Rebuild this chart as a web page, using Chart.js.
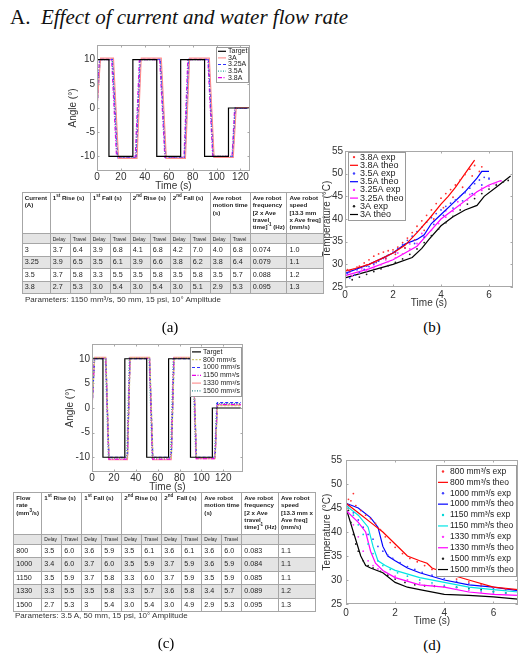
<!DOCTYPE html>
<html><head><meta charset="utf-8">
<script src="https://cdn.jsdelivr.net/npm/chart.js@4/dist/chart.umd.min.js"></script>
<style>
body{margin:0;width:529px;height:660px;position:relative;background:#fff;overflow:hidden;font-family:'Liberation Sans',Arial,sans-serif;}
canvas{position:absolute;}
.txt{position:absolute;white-space:nowrap;}
table{position:absolute;border-collapse:collapse;table-layout:fixed;font-family:'Liberation Sans',Arial,sans-serif;color:#222;}
td{border:1px solid #a6a6a6;padding:0 0 0 2px;font-size:7.2px;line-height:8px;vertical-align:middle;white-space:nowrap;overflow:hidden;}
td.dt{font-size:5px;}
th{border:1px solid #a6a6a6;font-size:6.2px;line-height:7.3px;font-weight:bold;text-align:left;vertical-align:top;padding:1px 2px;white-space:nowrap;overflow:hidden;}
sup{font-size:4.5px;line-height:0;}
tr.g td{background:#e4e4e4;}
</style></head>
<body>
<div class="txt" style="left:10px;top:5px;font:italic 21px 'Liberation Serif',serif;color:#111;"><span style="font-style:normal">A.</span>&nbsp;&nbsp;Effect of current and water flow rate</div>

<canvas id="cA" width="205" height="160" style="left:55px;top:35px"></canvas>
<canvas id="cB" width="209" height="175" style="left:320px;top:140px"></canvas>
<canvas id="cC" width="205" height="160" style="left:50px;top:335px"></canvas>
<canvas id="cD" width="209" height="185" style="left:320px;top:450px"></canvas>

<div id="tblA"></div>
<div id="tblC"></div>

<div class="txt" style="left:25px;top:295px;font-size:8px;color:#333;">Parameters: 1150 mm³/s, 50 mm, 15 psi, 10° Amplitude</div>
<div class="txt" style="left:15px;top:611px;font-size:8px;color:#333;">Parameters: 3.5 A, 50 mm, 15 psi, 10° Amplitude</div>

<div class="txt" style="left:170px;top:327px;transform:translate(-50%,-50%);font:15px 'Liberation Serif',serif;">(a)</div>
<div class="txt" style="left:432px;top:327px;transform:translate(-50%,-50%);font:15px 'Liberation Serif',serif;">(b)</div>
<div class="txt" style="left:166px;top:643px;transform:translate(-50%,-50%);font:15px 'Liberation Serif',serif;">(c)</div>
<div class="txt" style="left:432px;top:645px;transform:translate(-50%,-50%);font:15px 'Liberation Serif',serif;">(d)</div>

<script>
// ---------- tick labels ----------
const angleTicks = [-10, -5, 0, 5, 10];
const timeTicksLong = [0, 20, 40, 60, 80, 100, 120];
const tempTicks = [25, 30, 35, 40, 45, 50, 55];
const timeTicksShort = [0, 2, 4, 6];

// ---------- (a) angle vs time, by current ----------
const targetA = [[0,10],[10,10],[10,-10],[30,-10],[30,10],[50,10],[50,-10],[70,-10],[70,10],[90,10],[90,-10],[110,-10],[110,0],[128,0]];
const cur3A   = [[0,0],[3,10.3],[13.8,10.3],[18,-10.4],[33.5,-10.4],[37,10.3],[53.8,10.3],[58,-10.4],[74,-10.4],[77.5,10.3],[94,10.3],[98,-10.2],[114,-10.2],[116.5,0.1],[128,0.1]];
const cur325A = [[0,0],[2.6,10.1],[13.2,10.1],[17.5,-10.3],[33,-10.3],[36.5,10.1],[53.3,10.1],[57.6,-10.3],[73.5,-10.3],[77,10.1],[93.5,10.1],[97.6,-10.1],[113.6,-10.1],[116,0],[128,0]];
const cur35A  = [[0,0],[2.3,10],[12.8,10],[17,-10.2],[32.6,-10.2],[36,10],[53,10],[57.2,-10.2],[73.2,-10.2],[76.6,10],[93.2,10],[97.2,-10],[113.3,-10],[115.6,0],[128,0]];
const cur38A  = [[0,0],[2,10],[12.3,10],[16.4,-10.2],[32,-10.2],[35.5,10],[52.5,10],[56.8,-10.2],[72.8,-10.2],[76,10],[92.8,10],[96.8,-10],[113,-10],[115.2,0],[128,0]];

// ---------- (b) temperature vs time, by current ----------
const exp38A = [[0,28.2],[0.2,28.6],[0.4,29],[0.6,29.6],[0.8,30.3],[1.0,31],[1.2,31.8],[1.4,32.3],[1.6,32.7],[1.8,33],[2.0,33.2],[2.2,33.8],[2.4,34.8],[2.6,35.8],[2.8,37],[3.0,38.4],[3.2,39.6],[3.4,40.8],[3.6,42],[3.8,43.4],[4.0,44.6],[4.2,45.6],[4.4,46.5],[4.6,47.5],[4.8,48.6],[5.0,49.8],[5.2,51],[5.4,51.8],[5.6,50.5],
  [0.1,28.8],[0.5,29.4],[0.9,29.9],[1.3,30.6],[1.7,31.3],[2.1,32.2],[2.5,33.6],[2.9,35.4],[3.3,37.5],[3.7,40],[4.1,42.5],[4.5,44.8],[4.9,47],[5.3,49.5],[5.7,51.5]];
const theo38A = [[0,28.5],[0.5,29.2],[1,30],[1.5,31.2],[2,32.5],[2.5,34.2],[3,37],[3.5,40],[4,43.3],[4.3,45],[4.6,47],[5,50],[5.4,53]];
const exp35A = [[0,26.5],[0.2,27],[0.4,27.6],[0.6,28.2],[0.8,28.9],[1.0,29.5],[1.2,30.1],[1.4,30.7],[1.6,31.3],[1.8,32],[2.0,32.7],[2.2,33.5],[2.4,34.4],[2.6,35.3],[2.8,36.2],[3.0,37.2],[3.2,38.2],[3.4,39.3],[3.6,40.3],[3.8,41.2],[4.0,42],[4.2,42.8],[4.4,43.5],[4.6,44.2],[4.8,45],[5.0,45.8],[5.2,46.8],[5.4,47.8],[5.6,48.6],[5.8,49.2],[6.0,49],
  [0.1,28],[0.5,28.8],[0.9,29.6],[1.3,30.4],[1.7,31.4],[2.1,32.6],[2.5,33.6],[2.9,34.6],[3.3,36],[3.7,38.8],[4.1,40.8],[4.5,42.4],[4.9,44],[5.3,45.6],[5.7,47.5],[6.0,48.8]];
const theo35A = [[0,28],[0.5,29],[1,30],[1.5,31.2],[2,32.5],[2.5,34.5],[3,35.5],[3.3,36.5],[3.6,39],[4,41],[4.5,43.5],[5,46],[5.5,49],[5.7,50.5],[6,50.5]];
const exp325A = [[0,27],[0.3,27.5],[0.6,28],[0.9,28.6],[1.2,29.2],[1.5,29.9],[1.8,30.6],[2.1,31.4],[2.4,32.3],[2.7,33.4],[3.0,34.6],[3.3,36],[3.6,37.5],[3.9,39],[4.2,40.4],[4.5,41.7],[4.8,43],[5.1,44.2],[5.4,45.3],[5.7,46.3],[6.0,47.2],[6.3,48],[6.5,48.4],
  [0.2,28.3],[0.7,29],[1.2,29.9],[1.7,31],[2.2,32.5],[2.7,34.5],[3.2,36.8],[3.7,39.5],[4.2,41.8],[4.7,43.8],[5.2,45.4],[5.7,46.8],[6.2,47.8]];
const theo325A = [[0,27.5],[1,29],[2,31],[3,34],[3.5,37],[4,40],[4.5,42],[5,44],[5.5,46],[6,47.5],[6.5,48.5]];
const exp3A = [[0,26],[0.3,26.6],[0.6,27.2],[0.9,27.8],[1.2,28.4],[1.5,29],[1.8,29.7],[2.1,30.4],[2.4,31.2],[2.7,32.2],[3.0,33.4],[3.3,34.8],[3.6,36.3],[3.9,37.8],[4.2,39.2],[4.5,40.6],[4.8,42],[5.1,43.3],[5.4,44.5],[5.7,45.6],[6.0,46.6],[6.3,47.5],[6.6,48.2],[6.8,48.5]];
const theo3A = [[0,27],[1,28.5],[2,30],[2.8,31.5],[3.2,33.5],[3.5,35.5],[4,38.5],[4.5,40.5],[5,42],[5.5,43],[5.8,45],[6.3,47],[6.9,49.5]];

// ---------- (c) angle vs time, by flow rate ----------
const targetC = [[0,10],[10,10],[10,-10],[30,-10],[30,10],[50,10],[50,-10],[70,-10],[70,10],[90,10],[90,-10],[110,-10],[110,0],[136,0]];
const flow800  = [[0,0],[2.5,10.2],[12.8,10.2],[15.6,-10.1],[32.5,-10.1],[35,10.2],[52.8,10.2],[55.8,-10.1],[72.6,-10.1],[75.2,10.2],[92.6,10.2],[95.6,-10.1],[112.6,-10.1],[114.8,0.5],[136,0.5]];
const flow1000 = [[0,0],[2.4,10],[12.7,10],[15.5,-10],[32.4,-10],[34.8,10],[52.7,10],[55.6,-10],[72.5,-10],[75,10],[92.6,10],[95.5,-10],[112.5,-10],[114.6,1.1],[136,1.1]];
const flow1150 = [[0,0],[2.3,10.1],[12.6,10.1],[15.4,-10.4],[32.3,-10.4],[34.7,10.1],[52.6,10.1],[55.4,-10.4],[72.4,-10.4],[74.8,10.1],[92.5,10.1],[95.3,-10.3],[112.4,-10.3],[114.5,0.7],[136,0.7]];
const flow1330 = [[0,0],[2.4,10.3],[12.6,10.3],[15.5,-10.5],[32.4,-10.5],[34.8,10.3],[52.6,10.3],[55.5,-10.5],[72.4,-10.5],[74.9,10.3],[92.5,10.3],[95.4,-10.3],[112.4,-10.3],[114.6,0.6],[136,0.6]];
const flow1500 = [[0,0],[2,10.2],[12.2,10.2],[15,-10.2],[31.8,-10.2],[34.2,10.2],[52.2,10.2],[55,-10.2],[71.8,-10.2],[74.3,10.2],[92,10.2],[94.9,-10.2],[111.9,-10.2],[114,0.9],[136,0.9]];

// ---------- (d) temperature vs time, by flow rate ----------
const exp800 = [[0.1,46.8],[0.2,46.5],[0.3,48],[0.4,45.5],[0.6,44.5],[0.8,43.5],[1.0,42.8],[1.2,41.8],[1.4,40.5],[1.6,39],[1.8,37.8],[2.0,36.8],[2.3,35.5],[2.6,34.5],[2.9,33.8],[3.2,33],[3.5,32.2],[3.8,31.4],[4.1,30.8],[4.5,30.2],[5.0,29.6],[5.5,29],[6.0,28.5],[6.5,28.1],[7.0,27.8]];
const theo800 = [[0,46],[0.5,44],[1,42],[1.5,40],[2,37.5],[2.5,35],[3,34],[3.3,33.5],[3.5,32.5],[4,31.5],[5,30],[6,28.5],[7,28]];
const exp1000 = [[0.1,45.5],[0.3,44],[0.5,42.5],[0.7,41],[0.9,39.5],[1.1,38.5],[1.3,37],[1.5,36],[1.7,35.2],[1.9,34.5],[2.2,33.6],[2.5,32.8],[2.8,32.2],[3.1,31.6],[3.5,31],[4.0,30.3],[4.5,29.7],[5.0,29.2],[5.5,28.7],[6.0,28.3],[6.5,28],[7.0,27.6]];
const theo1000 = [[0,46],[0.5,45],[1,43],[1.3,41],[1.5,37],[1.7,35],[2,34],[2.5,32.5],[3,31.5],[4,30],[5,29],[6,28.5],[7,27.8]];
const exp1150 = [[0.1,45],[0.3,43.5],[0.5,41.5],[0.7,39.5],[0.9,37.5],[1.1,35.5],[1.3,34],[1.5,33],[1.8,32.2],[2.1,31.5],[2.5,30.8],[3.0,30],[3.5,29.4],[4.0,28.9],[4.5,28.5],[5.0,28.1],[5.5,27.8],[6.0,27.5],[6.5,27.3],[7.0,27.1]];
const theo1150 = [[0,45.5],[0.5,43.5],[0.9,41],[1.1,37],[1.3,34],[1.6,33],[2,32],[3,30.5],[4,29.5],[5,28.5],[6,28],[7,27.5]];
const exp1330 = [[0.1,44],[0.3,41.5],[0.5,39],[0.7,36],[0.9,34],[1.1,33],[1.3,32.3],[1.6,31.6],[2.0,30.8],[2.5,30],[3.0,29.4],[3.5,28.9],[4.0,28.5],[4.5,28.1],[5.0,27.8],[5.5,27.5],[6.0,27.2],[6.5,27],[7.0,26.8]];
const theo1330 = [[0,44.5],[0.5,42],[0.8,40],[1,36],[1.2,33.5],[1.5,32],[2,30.5],[3,29],[4,28.5],[5,27.5],[6,27],[7,26.8]];
const exp1500 = [[0.1,44.5],[0.2,42],[0.3,39.5],[0.4,37.5],[0.5,36],[0.7,34],[0.9,33],[1.1,32.5],[1.4,31.8],[1.7,31],[2.0,30.2],[2.4,29.5],[2.8,29],[3.2,28.8],[3.6,28.7],[4.0,28.6],[4.5,28.5],[5.0,28.3],[5.5,28],[6.0,27.6],[6.5,27.3],[7.0,27]];
const theo1500 = [[0,45],[0.3,40],[0.6,35],[0.8,33],[1,32.5],[1.5,31.5],[2,29.5],[2.5,28.5],[3,28],[4,27],[5,26.8],[6,26.5],[7,26]];

// ---------- tables ----------
const subHead = ['Delay','Travel'];
const tableAHeader = ['Current<br>(A)','1<sup>st</sup> Rise (s)','1<sup>st</sup> Fall (s)','2<sup>nd</sup> Rise (s)','2<sup>nd</sup> Fall (s)','Ave robot<br>motion time<br>(s)','Ave robot<br>frequency<br>[2 x Ave<br>travel<br>time]<sup>-1</sup> (Hz)','Ave robot<br>speed<br>[13.3 mm<br>x Ave freq]<br>(mm/s)'];
const tableARows = [
  ['3','3.7','6.4','3.9','6.8','4.1','6.8','4.2','7.0','4.0','6.8','0.074','1.0'],
  ['3.25','3.9','6.5','3.5','6.1','3.9','6.6','3.8','6.2','3.8','6.4','0.079','1.1'],
  ['3.5','3.7','5.8','3.3','5.5','3.5','5.8','3.5','5.8','3.5','5.7','0.088','1.2'],
  ['3.8','2.7','5.3','3.0','5.4','3.0','5.4','3.0','5.1','2.9','5.3','0.095','1.3']];
const tableCHeader = ['Flow<br>rate<br>(mm<sup>3</sup>/s)','1<sup>st</sup> Rise (s)','1<sup>st</sup> Fall (s)','2<sup>nd</sup> Rise (s)','2<sup>nd</sup>&nbsp; Fall (s)','Ave robot<br>motion time<br>(s)','Ave robot<br>frequency<br>[2 x Ave<br>travel<br>time]<sup>-1</sup> (Hz)','Ave robot<br>speed<br>[13.3 mm x<br>Ave freq]<br>(mm/s)'];
const tableCRows = [
  ['800','3.5','6.0','3.6','5.9','3.5','6.1','3.6','6.1','3.6','6.0','0.083','1.1'],
  ['1000','3.4','6.0','3.7','6.0','3.5','5.9','3.7','5.9','3.6','5.9','0.084','1.1'],
  ['1150','3.5','5.9','3.7','5.8','3.3','6.0','3.7','5.9','3.5','5.9','0.085','1.1'],
  ['1330','3.3','5.5','3.5','5.8','3.3','5.7','3.6','5.8','3.4','5.7','0.089','1.2'],
  ['1500','2.7','5.3','3','5.4','3.0','5.4','3.0','4.9','2.9','5.3','0.095','1.3']];

function buildTable(el, left, top, head, rows, headH, subH, rowH, grayOdd) {
  const widths = [28,20,20,20,20,20,20,20,20,20,20,36.7,36.7];
  let h = '<table style="left:'+left+'px;top:'+top+'px;width:'+widths.reduce((a,b)=>a+b,0)+'px"><colgroup>';
  widths.forEach(w => h += '<col style="width:'+w+'px">');
  h += '</colgroup><tr style="height:'+headH+'px"><th>'+head[0]+'</th>';
  for (let i = 1; i <= 5; i++) h += '<th colspan="2">'+head[i]+'</th>';
  h += '<th>'+head[6]+'</th><th>'+head[7]+'</th></tr>';
  h += '<tr class="g" style="height:'+subH+'px"><td></td>';
  for (let i = 0; i < 5; i++) h += '<td class="dt">'+subHead[0]+'</td><td class="dt">'+subHead[1]+'</td>';
  h += '<td></td><td></td></tr>';
  rows.forEach((r, i) => {
    const g = (i % 2 === 1) === grayOdd;
    h += '<tr'+(g ? ' class="g"' : '')+' style="height:'+rowH+'px">';
    r.forEach(c => h += '<td>'+c+'</td>');
    h += '</tr>';
  });
  h += '</table>';
  document.getElementById(el).innerHTML = h;
}
buildTable('tblA', 21.7, 192, tableAHeader, tableARows, 41, 10, 12.5, true);
buildTable('tblC', 13.3, 492, tableCHeader, tableCRows, 42, 9.5, 13.5, true);

// ---------- chart helpers ----------
const FONT = "'Liberation Sans', Arial, sans-serif";
const xy = a => a.map(p => ({x: p[0], y: p[1]}));

const frame = {
  id: 'frame',
  afterDatasetsDraw(chart) {
    const ctx = chart.ctx, ca = chart.chartArea, sx = chart.scales.x, sy = chart.scales.y;
    ctx.save();
    ctx.strokeStyle = '#a8a8a8'; ctx.lineWidth = 1; ctx.setLineDash([]);
    const L = 2.5;
    ctx.beginPath();
    sx.ticks.forEach(t => { const p = Math.round(sx.getPixelForValue(t.value)) + 0.5;
      ctx.moveTo(p, ca.bottom); ctx.lineTo(p, ca.bottom - L); ctx.moveTo(p, ca.top); ctx.lineTo(p, ca.top + L); });
    sy.ticks.forEach(t => { const p = Math.round(sy.getPixelForValue(t.value)) + 0.5;
      ctx.moveTo(ca.left, p); ctx.lineTo(ca.left + L, p); ctx.moveTo(ca.right, p); ctx.lineTo(ca.right - L, p); });
    ctx.stroke();
    ctx.strokeRect(Math.round(ca.left) + 0.5, Math.round(ca.top) + 0.5, Math.round(ca.width) - 1, Math.round(ca.height) - 1);
    ctx.restore();
  }
};

const boxLegend = {
  id: 'boxLegend',
  afterDraw(chart, args, o) {
    const ctx = chart.ctx, ca = chart.chartArea, ds = chart.data.datasets;
    ctx.save();
    ctx.font = o.size + 'px ' + FONT;
    let tw = 0; ds.forEach(d => { tw = Math.max(tw, ctx.measureText(d.label).width); });
    const w = Math.round(o.padL + o.sample + o.gap + tw + o.padR), h = Math.round(ds.length * o.row + 2 * o.padT);
    const x0 = Math.round(o.align === 'right' ? ca.right - o.dx - w : ca.left + o.dx);
    const y0 = Math.round(ca.top + o.dy);
    ctx.fillStyle = '#fff'; ctx.fillRect(x0, y0, w, h);
    ctx.strokeStyle = '#9a9a9a'; ctx.lineWidth = 1; ctx.strokeRect(x0 + 0.5, y0 + 0.5, w, h);
    ds.forEach((d, i) => {
      const cy = y0 + o.padT + (i + 0.5) * o.row, sx = x0 + o.padL;
      if (d.showLine) {
        ctx.strokeStyle = d.borderColor; ctx.lineWidth = d.borderWidth || 1; ctx.setLineDash(d.borderDash || []);
        ctx.beginPath(); ctx.moveTo(sx, cy); ctx.lineTo(sx + o.sample, cy); ctx.stroke(); ctx.setLineDash([]);
      } else {
        ctx.fillStyle = d.backgroundColor;
        ctx.beginPath(); ctx.arc(sx + o.sample / 2, cy, 1.2, 0, Math.PI * 2); ctx.fill();
      }
      ctx.fillStyle = '#222'; ctx.textBaseline = 'middle'; ctx.textAlign = 'left';
      ctx.fillText(d.label, sx + o.sample + o.gap, cy);
    });
    ctx.restore();
  }
};

function scales(o) {
  const tickFont = {family: FONT, size: o.fs};
  return {
    x: {type: 'linear', min: o.xmin, max: o.xmax,
      afterBuildTicks: s => { s.ticks = o.xt.map(v => ({value: v})); },
      afterFit: s => { s.height = o.xh; },
      grid: {display: false, drawTicks: false}, border: {display: false},
      ticks: {padding: o.xtp, color: '#333', font: tickFont, maxRotation: 0, autoSkip: false},
      title: {display: true, text: o.xtitle, color: '#333', font: tickFont, padding: {top: 0, bottom: o.xtb}}},
    y: {type: 'linear', min: o.ymin, max: o.ymax,
      afterBuildTicks: s => { s.ticks = o.yt.map(v => ({value: v})); },
      afterFit: s => { s.width = o.yw; },
      grid: {display: false, drawTicks: false}, border: {display: false},
      ticks: {padding: o.ytp, color: '#333', font: tickFont, autoSkip: false},
      title: {display: true, text: o.ytitle, color: '#333', font: tickFont, padding: {top: o.ytt, bottom: 0}}}
  };
}

function line(label, data, color, dash, width) {
  return {label, data: xy(data), showLine: true, borderColor: color, backgroundColor: color,
    borderWidth: width || 1.2, borderDash: dash || [], pointRadius: 0, tension: 0};
}
function dots(label, data, color) {
  return {label, data: xy(data), showLine: false, borderColor: color, backgroundColor: color,
    pointRadius: 0.9, pointBorderWidth: 0, pointStyle: 'circle'};
}

function make(id, datasets, sc, pad, legend) {
  new Chart(document.getElementById(id), {
    type: 'scatter',
    data: {datasets},
    options: {
      responsive: false, animation: false, devicePixelRatio: 1,
      layout: {padding: pad},
      scales: sc,
      plugins: {legend: {display: false}, tooltip: {enabled: false}, boxLegend: legend}
    },
    plugins: [frame, boxLegend]
  });
}

// (a)
make('cA', [
  line('Target', targetA, '#000000', [], 1.2),
  line('3A', cur3A, '#ff8c8c', [], 1.1),
  line('3.25A', cur325A, '#3030ff', [3, 2], 1.2),
  line('3.5A', cur35A, '#2aa89a', [1, 1.5], 1.3),
  line('3.8A', cur38A, '#e600e6', [4, 1.5, 1, 1.5], 1.3)
], scales({xmin: 0, xmax: 128, xt: timeTicksLong, xh: 24, xtp: 0, xtitle: 'Time (s)', xtb: 3,
  ymin: -13, ymax: 13, yt: angleTicks, yw: 42, ytp: 2, ytitle: 'Angle (°)', ytt: 12, fs: 10}),
  {top: 10, right: 10, left: 0, bottom: 0},
  {align: 'right', dx: 2, dy: 2, size: 7, row: 6.6, sample: 8, gap: 2, padL: 2, padR: 1, padT: 1});

// (b)
make('cB', [
  dots('3.8A exp', exp38A, '#ff3030'),
  line('3.8A theo', theo38A, '#ff0000', [], 1.2),
  dots('3.5A exp', exp35A, '#4040ff'),
  line('3.5A theo', theo35A, '#0000ff', [], 1.2),
  dots('3.25A exp', exp325A, '#ff30ff'),
  line('3.25A theo', theo325A, '#ff00ff', [], 1.2),
  dots('3A exp', exp3A, '#202020'),
  line('3A theo', theo3A, '#000000', [], 1.2)
], scales({xmin: 0, xmax: 7, xt: timeTicksShort, xh: 28, xtp: 2, xtitle: 'Time (s)', xtb: 5.7,
  ymin: 25, ymax: 55, yt: tempTicks, yw: 25, ytp: 2, ytitle: 'Temperature (°C)', ytt: 1, fs: 10}),
  {top: 11, right: 16, left: 0, bottom: 0},
  {align: 'left', dx: 3, dy: 1, size: 9, row: 8.2, sample: 8, gap: 2, padL: 2, padR: 1, padT: 1});

// (c)
make('cC', [
  line('Target', targetC, '#000000', [], 1.2),
  line('800 mm³/s', flow800, '#cfc870', [2, 1.5], 1.2),
  line('1000 mm³/s', flow1000, '#3030ff', [3, 2], 1.2),
  line('1150 mm³/s', flow1150, '#e600e6', [4, 1.5, 1, 1.5], 1.3),
  line('1330 mm³/s', flow1330, '#ff8c8c', [], 1.1),
  line('1500 mm³/s', flow1500, '#2a8a8a', [1, 1.5], 1.3)
], scales({xmin: 0, xmax: 138, xt: timeTicksLong, xh: 23, xtp: 0, xtitle: 'Time (s)', xtb: 2,
  ymin: -13, ymax: 13, yt: angleTicks, yw: 42, ytp: 2, ytitle: 'Angle (°)', ytt: 14, fs: 10}),
  {top: 9, right: 12, left: 0, bottom: 0},
  {align: 'right', dx: 2, dy: 3, size: 7, row: 7.8, sample: 9, gap: 2, padL: 2, padR: 1, padT: 1});

// (d)
make('cD', [
  dots('800 mm³/s exp', exp800, '#ff3030'),
  line('800 mm³/s theo', theo800, '#ff0000', [], 1.2),
  dots('1000 mm³/s exp', exp1000, '#4040ff'),
  line('1000 mm³/s theo', theo1000, '#0000ff', [], 1.2),
  dots('1150 mm³/s exp', exp1150, '#00d8d8'),
  line('1150 mm³/s theo', theo1150, '#00e5e5', [], 1.2),
  dots('1330 mm³/s exp', exp1330, '#ff30ff'),
  line('1330 mm³/s theo', theo1330, '#ff00ff', [], 1.2),
  dots('1500 mm³/s exp', exp1500, '#202020'),
  line('1500 mm³/s theo', theo1500, '#000000', [], 1.2)
], scales({xmin: 0, xmax: 7, xt: timeTicksShort, xh: 31, xtp: 3, xtitle: 'Time (s)', xtb: 7.3,
  ymin: 25, ymax: 55, yt: tempTicks, yw: 26, ytp: 4, ytitle: 'Temperature (°C)', ytt: 1, fs: 10}),
  {top: 10, right: 11, left: 0, bottom: 0},
  {align: 'right', dx: 2, dy: 5, size: 8.5, row: 10.9, sample: 10, gap: 2, padL: 2, padR: 2, padT: 1});
</script>
</body></html>
